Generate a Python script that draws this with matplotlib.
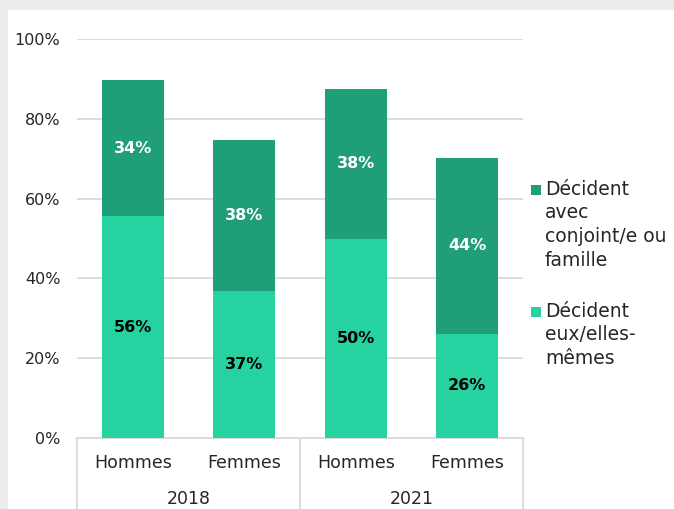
import matplotlib
matplotlib.use("Agg")
import matplotlib.pyplot as plt
from matplotlib.patches import Rectangle
from matplotlib.lines import Line2D
import numpy as np

plt.rcParams['font.family'] = ['DejaVu Sans']

categories = ["Hommes", "Femmes", "Hommes", "Femmes"]
years = ["2018", "2021"]
eux_memes = [55.6, 36.8, 49.9, 26.1]
avec_conjoint = [34.1, 37.9, 37.6, 44.1]
series_names = ["Décident\navec\nconjoint/e ou\nfamille", "Décident\neux/elles-\nmêmes"]
labels_eux = ["56%", "37%", "50%", "26%"]
labels_avec = ["34%", "38%", "38%", "44%"]

c_light = "#26d3a0"
c_dark = "#1f9e78"
grid_c = "#d9d9d9"
txt_c = "#262626"

W, H = 674, 509
fig = plt.figure(figsize=(W / 100, H / 100), dpi=100, facecolor="#ededed")
fig.patches.append(Rectangle((8 / W, 0), 1, 1 - 10 / H, transform=fig.transFigure,
                             facecolor="white", edgecolor="none", zorder=-5))

ax = fig.add_axes([77 / W, 1 - 438 / H, 446 / W, 399 / H])
ax.set_facecolor("none")
x = np.arange(len(categories))
bw = 0.555
b1 = ax.bar(x, eux_memes, bw, color=c_light, zorder=3)
b2 = ax.bar(x, avec_conjoint, bw, bottom=eux_memes, color=c_dark, zorder=3)

for i in range(len(x)):
    ax.text(x[i], eux_memes[i] / 2, labels_eux[i], ha="center", va="center",
            fontsize=11.5, fontweight="bold", color="black", zorder=4)
    ax.text(x[i], eux_memes[i] + avec_conjoint[i] / 2, labels_avec[i], ha="center",
            va="center", fontsize=11.5, fontweight="bold", color="white", zorder=4)

ax.set_xlim(-0.5, len(x) - 0.5)
ax.set_ylim(0, 100)
ax.set_yticks(np.arange(0, 101, 20))
ax.set_yticklabels([f"{v}%" for v in range(0, 101, 20)], fontsize=11.5, color=txt_c)
ax.tick_params(axis="y", length=0, pad=12)
ax.tick_params(axis="x", length=0, labelbottom=False)
ax.yaxis.grid(True, color=grid_c, linewidth=1.3, zorder=0)
for s in ["top", "right", "left"]:
    ax.spines[s].set_visible(False)
ax.spines["bottom"].set_color(grid_c)
ax.spines["bottom"].set_linewidth(1.3)

# multi-level category axis
trans = ax.get_xaxis_transform()
for xv in [-0.5, 1.5, 3.5]:
    ax.add_line(Line2D([xv, xv], [0, -71 / 399], transform=trans, color=grid_c,
                       linewidth=1.3, clip_on=False))
for i, c in enumerate(categories):
    ax.text(x[i], -25 / 399, c, transform=trans, ha="center", va="center",
            fontsize=12.5, color=txt_c)
for j, yr in enumerate(years):
    ax.text(0.5 + 2 * j, -61 / 399, yr, transform=trans, ha="center", va="center",
            fontsize=12.5, color=txt_c)

# legend (drawn manually so the swatch aligns with the first line)
leg_entries = [(series_names[0], c_dark, 190), (series_names[1], c_light, 312)]
for name, col, ytop in leg_entries:
    fig.patches.append(Rectangle((531 / W, 1 - (ytop + 5) / H), 10 / W, 10 / H,
                                 transform=fig.transFigure, facecolor=col,
                                 edgecolor="none"))
    fig.text(545 / W, 1 - (ytop - 10) / H, name, ha="left", va="top",
             fontsize=13.5, color=txt_c, linespacing=1.3)

fig.savefig("out.png", dpi=100, facecolor=fig.get_facecolor())
